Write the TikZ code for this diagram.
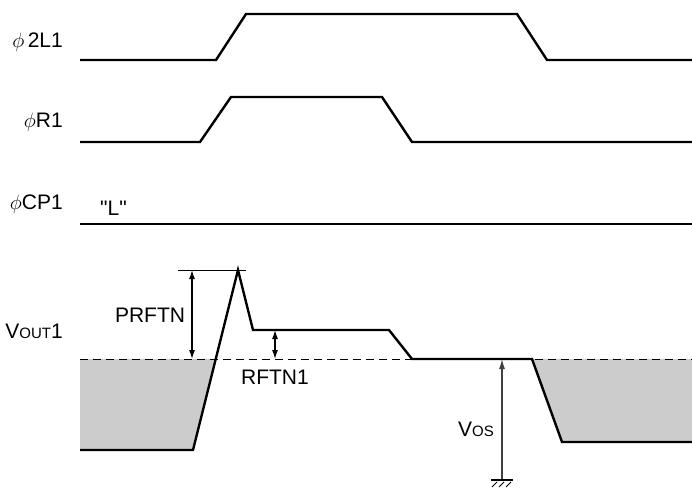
\documentclass[tikz,border=0pt]{standalone}
\usepackage{fontspec}
\setmainfont{Liberation Sans}
\usetikzlibrary{arrows.meta}

\newcommand{\smc}[1]{{\fontsize{15}{17}\selectfont #1}}

\begin{document}
\begin{tikzpicture}[x=1pt,y=-1pt,
    sig/.style={line width=2.4pt,line join=miter},
    dim/.style={line width=1.2pt,{Latex[length=9pt,width=6pt]}-{Latex[length=9pt,width=6pt]}},
    lbl/.style={font=\fontsize{21}{24}\selectfont,inner sep=0pt}]
    \useasboundingbox (0,0) rectangle (692,487);

    % shaded areas below the reference level
    \fill[black!20] (80,359) -- (216,359) -- (193,450) -- (80,450) -- cycle;
    \fill[black!20] (532,359) -- (562,442) -- (692,442) -- (692,359) -- cycle;
    \draw[line width=1pt,dash pattern=on 8pt off 5pt] (80,359) -- (692,359);

    % labels
    \node[lbl,anchor=east] (l2L1)  at (63,42)  {$\phi\,$2L1};
    \node[lbl,anchor=east] (lR1)   at (63,122) {$\phi$R1};
    \node[lbl,anchor=east] (lCP1)  at (63,204) {$\phi$CP1};
    \node[lbl,anchor=east] (lVout) at (63,331) {V\smc{OUT}1};
    \node[lbl,anchor=west] (lL)    at (100,208) {\textquotedbl L\textquotedbl};
    \node[lbl]             (lPR)   at (150,315) {PRFTN};
    \node[lbl]             (lRF)   at (275,377) {RFTN1};
    \node[lbl,anchor=east] (lVos)  at (494,429) {V\smc{OS}};

    % signals
    \draw[sig] (80,60) -- (216,60) -- (246,14) -- (517,14) -- (547,60) -- (692,60);
    \draw[sig] (80,142) -- (200,142) -- (231,97) -- (382,97) -- (412,142) -- (692,142);
    \draw[sig] (80,224) -- (692,224);
    \draw[sig] (80,450) -- (193,450) -- (238,270) -- (253,330) -- (389,330)
        -- (412,359) -- (532,359) -- (562,442) -- (692,442);

    % dimensions
    \coordinate (pkL) at (178,270);
    \coordinate (pkR) at (246,270);
    \coordinate (prT) at (192,270);
    \coordinate (prB) at (192,359);
    \coordinate (rfT) at (275,330);
    \coordinate (rfB) at (275,359);
    \coordinate (osT) at (502,359);
    \coordinate (gnd) at (502,480);
    \draw[line width=1pt] (pkL) -- (pkR);
    \draw[dim] (prT) -- (prB);
    \draw[dim] (rfT) -- (rfB);
    \draw[line width=1.2pt,black!75,-{Latex[length=10pt,width=6pt]}] (gnd) -- (osT);

    % ground
    \draw[line width=2pt] (491,480) -- (513,480);
    \foreach \h in {492,499,506}
        \draw[line width=1pt] (\h,487) -- (\h+5,482);
\end{tikzpicture}
\end{document}
